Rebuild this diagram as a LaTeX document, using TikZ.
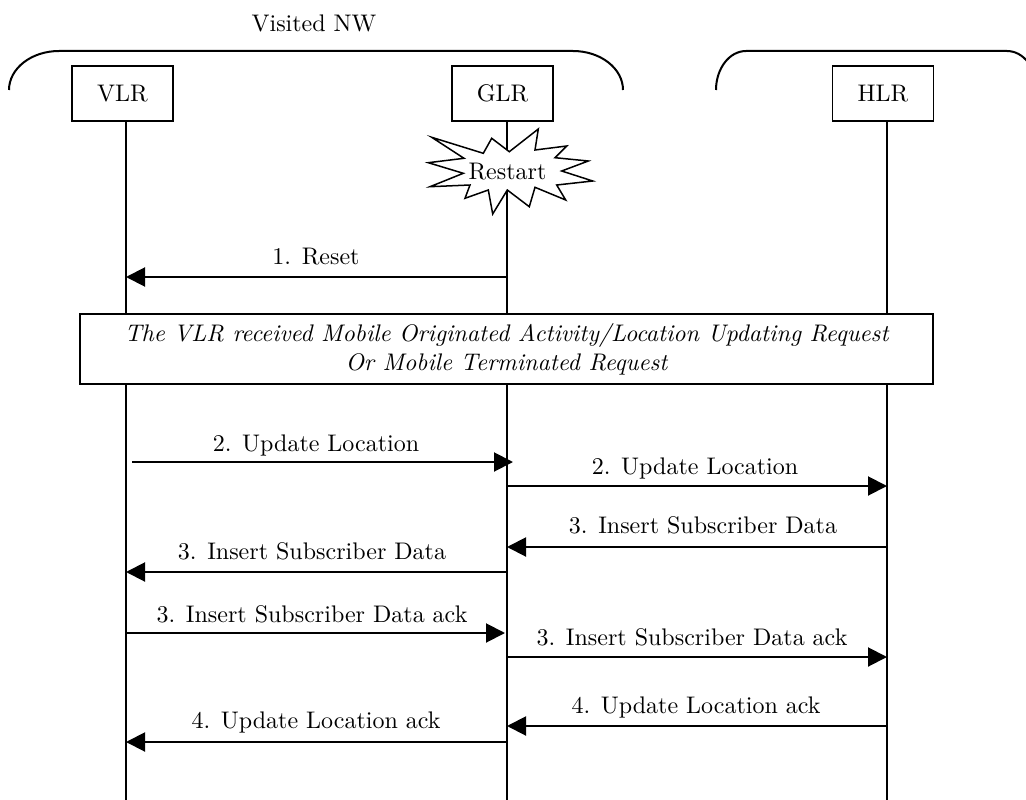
\documentclass[tikz,border=0pt]{standalone}
\usepackage{fontspec}
\setmainfont{lmroman10-regular.otf}[ItalicFont=lmroman10-italic.otf]
\usetikzlibrary{arrows.meta}
\begin{document}
\begin{tikzpicture}[x=1pt,y=-1pt,
  txt/.style={font=\fontsize{24}{29}\selectfont, inner sep=0pt},
  lbl/.style={txt, anchor=base},
  entity/.style={draw, line width=1.5pt, minimum width=101pt, minimum height=55pt, inner sep=0pt, font=\fontsize{24}{29}\selectfont},
  life/.style={line width=1.5pt},
  msg/.style={line width=2pt, -{Triangle[length=19pt,width=19pt]}},
  bracket/.style={line width=2pt},
  burst/.style={line width=1.5pt, fill=white, line join=miter},
  condbox/.style={draw, fill=white, line width=1.5pt, minimum width=853pt, minimum height=70pt, inner sep=0pt,
  align=center, font=\fontsize{24}{29}\selectfont\itshape}
]
\useasboundingbox (0,0) rectangle (1026,800);
\clip (0,0) rectangle (1026,800);

% network brackets
\node[lbl] (vnw) at (314,32) {Visited NW};
\draw[bracket] (9,90) arc[start angle=180, end angle=270, x radius=50, y radius=39]
  -- (573,51) arc[start angle=270, end angle=360, x radius=50, y radius=39];
\draw[bracket] (716,90) arc[start angle=180, end angle=270, x radius=30, y radius=39]
  -- (1007,51) arc[start angle=270, end angle=360, x radius=30, y radius=39];

% entities
\node[entity] (vlr) at (122.5,93.5) {VLR};
\node[entity] (glr) at (502.5,93.5) {GLR};
\node[entity] (hlr) at (883,93.5) {HLR};

\coordinate (vb) at (126,800);
\coordinate (gb) at (507,800);
\coordinate (hb) at (887,800);
\draw[life] (vlr.south -| vb) -- (vb);
\draw[life] (glr.south -| gb) -- (gb);
\draw[life] (hlr.south -| hb) -- (hb);

% restart burst
\draw[burst] (431.7,137.3) -- (483.3,153.3) -- (491.7,138.3) -- (509.3,151.7)
  -- (538.3,129) -- (535,150) -- (566.7,146) -- (555,157.7) -- (588.3,161)
  -- (561.7,171) -- (592.7,181) -- (556.7,185) -- (565.7,200) -- (535,187.3)
  -- (529.3,206.7) -- (507.3,190) -- (492.7,214) -- (488.3,190) -- (465,198.3)
  -- (470,185) -- (430,186.7) -- (463.3,173.3) -- (428.3,162.7) -- (464,158.3) -- cycle;
\node[lbl] (restart) at (507.5,179) {Restart};

% 1. Reset
\coordinate (g1) at (507,277);
\coordinate (v1) at (126,277);
\draw[msg] (g1) -- (v1);
\node[lbl] (l1) at (316,264) {1. Reset};

% condition box
\node[condbox] (cond) at (506.5,349)
  {The VLR received Mobile Originated Activity/Location Updating Request\\Or Mobile Terminated Request};

% 2. Update Location
\coordinate (v2) at (132,462);
\coordinate (g2) at (513,462);
\draw[msg] (v2) -- (g2);
\node[lbl] (l2a) at (316,451) {2. Update Location};
\coordinate (g2b) at (507,486);
\coordinate (h2b) at (887,486);
\draw[msg] (g2b) -- (h2b);
\node[lbl] (l2b) at (695,474) {2. Update Location};

% 3. Insert Subscriber Data
\coordinate (h3) at (887,547);
\coordinate (g3) at (507,547);
\draw[msg] (h3) -- (g3);
\node[lbl] (l3a) at (703,533) {3. Insert Subscriber Data};
\coordinate (g3b) at (507,572);
\coordinate (v3b) at (126,572);
\draw[msg] (g3b) -- (v3b);
\node[lbl] (l3b) at (312,559) {3. Insert Subscriber Data};

% 3. Insert Subscriber Data ack
\coordinate (v4) at (126,633);
\coordinate (g4) at (505,633);
\draw[msg] (v4) -- (g4);
\node[lbl] (l4a) at (312,622) {3. Insert Subscriber Data ack};
\coordinate (g4b) at (507,657);
\coordinate (h4b) at (887,657);
\draw[msg] (g4b) -- (h4b);
\node[lbl] (l4b) at (692,645) {3. Insert Subscriber Data ack};

% 4. Update Location ack
\coordinate (h5) at (887,726);
\coordinate (g5) at (507,726);
\draw[msg] (h5) -- (g5);
\node[lbl] (l5a) at (696,713) {4. Update Location ack};
\coordinate (g5b) at (507,742);
\coordinate (v5b) at (126,742);
\draw[msg] (g5b) -- (v5b);
\node[lbl] (l5b) at (316,728) {4. Update Location ack};
\end{tikzpicture}
\end{document}
